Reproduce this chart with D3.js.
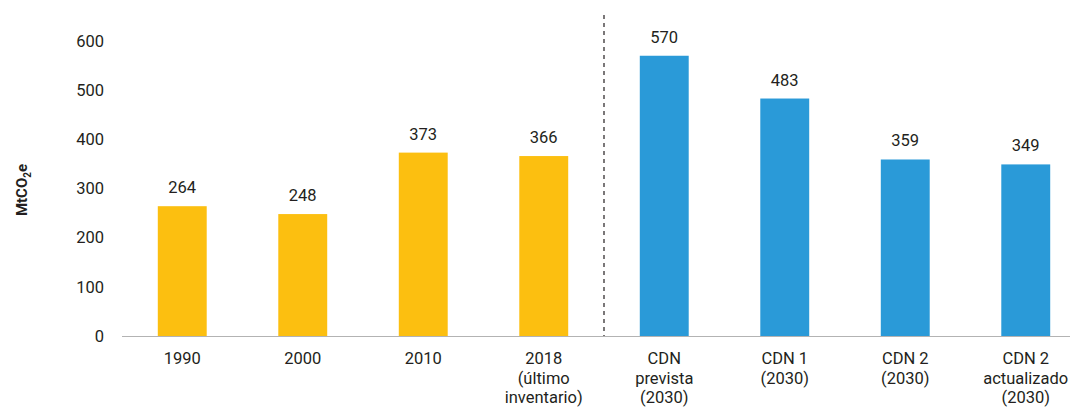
<!DOCTYPE html>
<html>
<head>
<meta charset="utf-8">
<script src="https://cdn.jsdelivr.net/npm/d3@7"></script>
<style>
  html, body { margin: 0; padding: 0; background: #fff; overflow: hidden; }
  svg { display: block; }
  text { font-family: Roboto, "Noto Sans", sans-serif; fill: #231f20; }
</style>
</head>
<body>
<svg id="chart" width="1070" height="407"></svg>
<script>
// Emisiones (MtCO2e): histórico y metas CDN
const categories = [
  ["1990"],
  ["2000"],
  ["2010"],
  ["2018", "(último", "inventario)"],
  ["CDN", "prevista", "(2030)"],
  ["CDN 1", "(2030)"],
  ["CDN 2", "(2030)"],
  ["CDN 2", "actualizado", "(2030)"]
];
const values = [264, 248, 373, 366, 570, 483, 359, 349];
const groups = ["hist", "hist", "hist", "hist", "cdn", "cdn", "cdn", "cdn"];
const yTicks = [0, 100, 200, 300, 400, 500, 600];

const colors = { hist: "#fcbf10", cdn: "#2a9ad8" };

const svg = d3.select("#chart");
const keys = categories.map((c, i) => i);

const x = d3.scaleBand()
  .domain(keys)
  .range([122, 1086])
  .paddingInner(0.594)
  .paddingOuter(0.297);

const y = d3.scaleLinear().domain([0, 600]).range([336, 41]);

// y tick labels (no axis line)
svg.append("g")
  .selectAll("text")
  .data(yTicks)
  .join("text")
  .attr("x", 104)
  .attr("y", d => y(d))
  .attr("dy", "0.35em")
  .attr("text-anchor", "end")
  .attr("font-size", 16.5)
  .text(d => d);

// y axis title
const yt = svg.append("text")
  .attr("transform", "translate(27,190) rotate(-90)")
  .attr("text-anchor", "middle")
  .attr("font-size", 15)
  .attr("font-weight", "bold");
yt.append("tspan").text("MtCO");
yt.append("tspan").attr("font-size", 10).attr("dy", 4).text("2");
yt.append("tspan").attr("dy", -4).text("e");

// bars
svg.append("g")
  .selectAll("rect")
  .data(keys)
  .join("rect")
  .attr("x", i => x(i))
  .attr("width", x.bandwidth())
  .attr("y", i => y(values[i]))
  .attr("height", i => y(0) - y(values[i]))
  .attr("fill", i => colors[groups[i]]);

// baseline
svg.append("line")
  .attr("x1", 122).attr("x2", 1086)
  .attr("y1", y(0) + 0.5).attr("y2", y(0) + 0.5)
  .attr("stroke", "#b3b3b3").attr("stroke-width", 1);

// separator between history and targets
const sepX = (x(3) + x.bandwidth() + x(4)) / 2;
svg.append("line")
  .attr("x1", sepX).attr("x2", sepX)
  .attr("y1", 15).attr("y2", y(0))
  .attr("stroke", "#231f20").attr("stroke-width", 1.2)
  .attr("stroke-dasharray", "4,4");

// value labels
svg.append("g")
  .selectAll("text")
  .data(keys)
  .join("text")
  .attr("x", i => x(i) + x.bandwidth() / 2)
  .attr("y", i => y(values[i]) - 13)
  .attr("text-anchor", "middle")
  .attr("font-size", 16.5)
  .text(i => values[i]);

// category labels
const cl = svg.append("g")
  .selectAll("text")
  .data(keys)
  .join("text")
  .attr("x", i => x(i) + x.bandwidth() / 2)
  .attr("y", 364)
  .attr("text-anchor", "middle")
  .attr("font-size", 16.5);
cl.selectAll("tspan")
  .data(i => categories[i].map(t => ({ t, i })))
  .join("tspan")
  .attr("x", d => x(d.i) + x.bandwidth() / 2)
  .attr("dy", (d, j) => j === 0 ? 0 : 19.5)
  .text(d => d.t);
</script>
</body>
</html>
